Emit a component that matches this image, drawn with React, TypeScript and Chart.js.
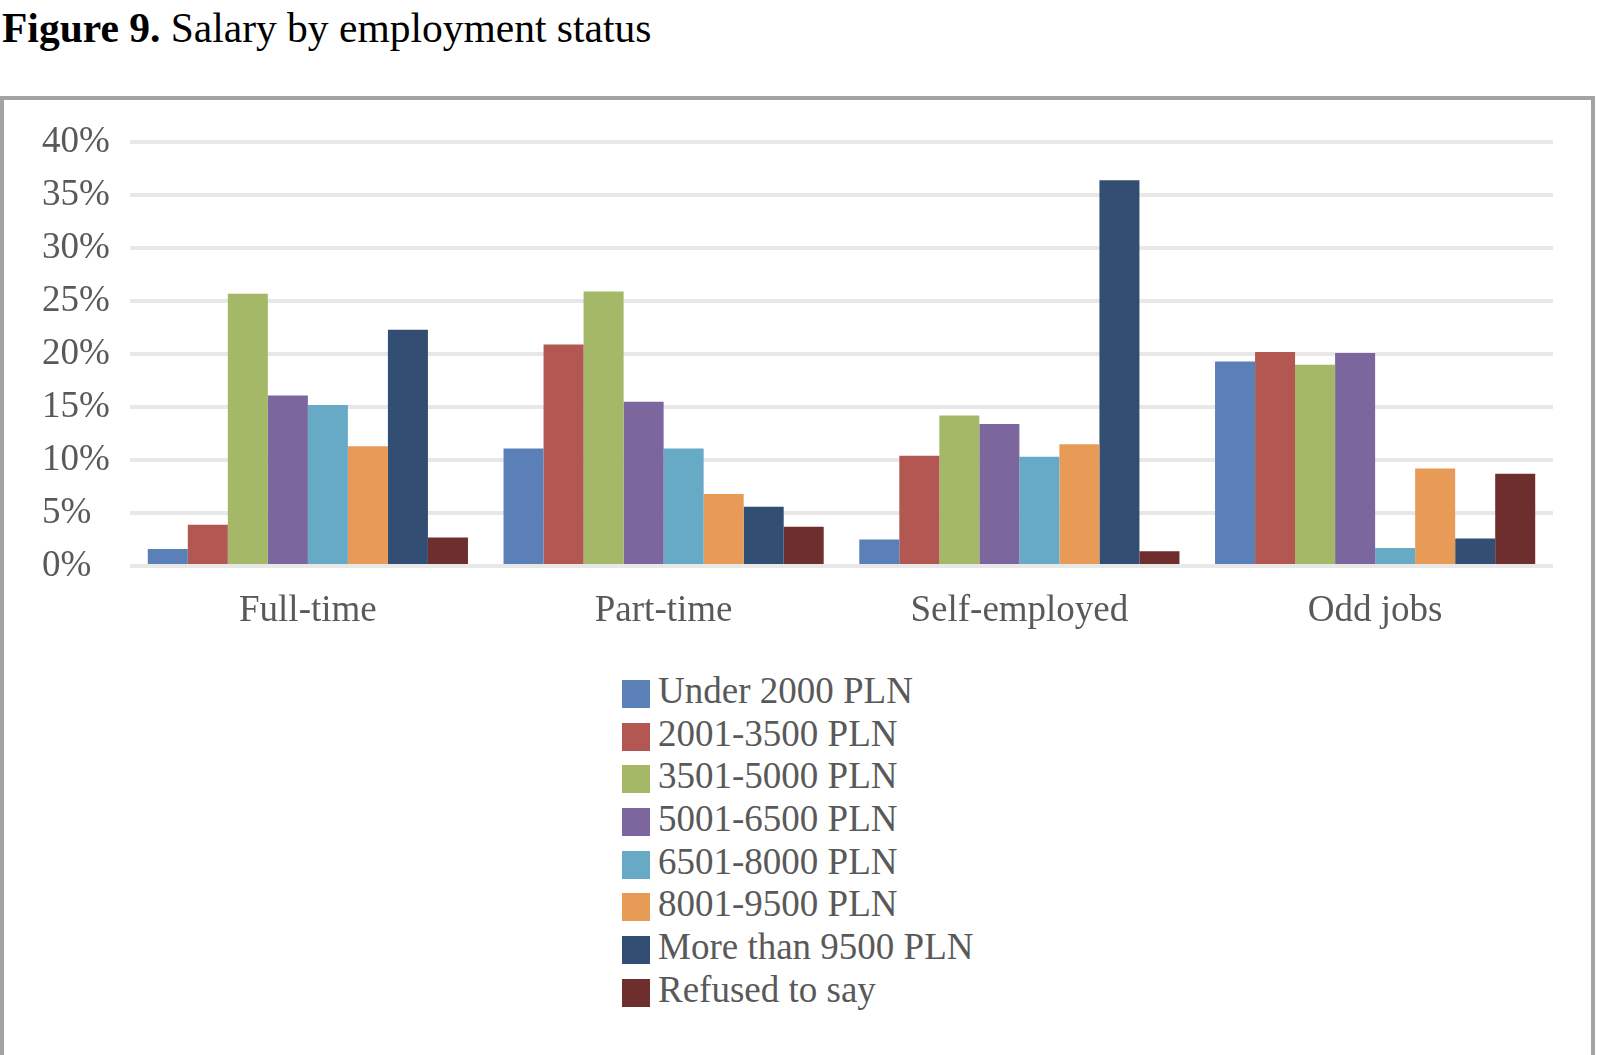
import React, { useEffect, useRef } from "react";
import { Chart, registerables } from "chart.js";

Chart.register(...registerables);

const categories = ["Full-time", "Part-time", "Self-employed", "Odd jobs"];

const seriesLabels = [
  "Under 2000 PLN",
  "2001-3500 PLN",
  "3501-5000 PLN",
  "5001-6500 PLN",
  "6501-8000 PLN",
  "8001-9500 PLN",
  "More than 9500 PLN",
  "Refused to say",
];

const seriesColors = [
  "#5B80B8",
  "#B35752",
  "#A4B868",
  "#7B669E",
  "#67AAC5",
  "#E89A57",
  "#324E72",
  "#6E2E2E",
];

const under2000 = [1.6, 11.1, 2.5, 19.3];
const from2001to3500 = [3.9, 20.9, 10.4, 20.2];
const from3501to5000 = [25.7, 25.9, 14.2, 19.0];
const from5001to6500 = [16.1, 15.5, 13.4, 20.1];
const from6501to8000 = [15.2, 11.1, 10.3, 1.7];
const from8001to9500 = [11.3, 6.8, 11.5, 9.2];
const over9500 = [22.3, 5.6, 36.4, 2.6];
const refusedToSay = [2.7, 3.7, 1.4, 8.7];

const seriesValues = [
  under2000,
  from2001to3500,
  from3501to5000,
  from5001to6500,
  from6501to8000,
  from8001to9500,
  over9500,
  refusedToSay,
];

const yMin = 0;
const yMax = 40;
const yStep = 5;

const SERIF = "'Liberation Serif', 'Times New Roman', serif";

function BarChart() {
  const canvasRef = useRef<HTMLCanvasElement | null>(null);

  useEffect(() => {
    if (!canvasRef.current) return;
    const chart = new Chart(canvasRef.current, {
      type: "bar",
      data: {
        labels: categories,
        datasets: seriesLabels.map((label, i) => ({
          label,
          data: seriesValues[i],
          backgroundColor: seriesColors[i],
          borderWidth: 0,
          barPercentage: 1,
          categoryPercentage: 0.9,
        })),
      },
      options: {
        animation: false,
        responsive: true,
        maintainAspectRatio: false,
        layout: { padding: { left: 38, right: 36, top: 35, bottom: 0 } },
        plugins: {
          legend: { display: false },
          title: { display: false },
          tooltip: { enabled: false },
        },
        scales: {
          x: {
            grid: { display: false, drawTicks: false },
            border: { display: false },
            ticks: {
              color: "#595959",
              padding: 23,
              font: { family: SERIF, size: 37 },
            },
            afterFit: (scale: any) => {
              scale.height = 77;
            },
          },
          y: {
            min: yMin,
            max: yMax,
            grid: {
              color: "#e8e8e8",
              lineWidth: 4,
              drawTicks: false,
            },
            border: { display: false },
            ticks: {
              stepSize: yStep,
              crossAlign: "far",
              padding: 20,
              color: "#595959",
              font: { family: SERIF, size: 37 },
              callback: (v: any) => `${v}%`,
            },
            afterFit: (scale: any) => {
              scale.width = 88;
            },
          },
        },
      },
    });
    return () => chart.destroy();
  }, []);

  return <canvas ref={canvasRef} />;
}

export default function App() {
  return (
    <div
      style={{
        position: "absolute",
        left: 0,
        top: 0,
        width: 1600,
        height: 1055,
        overflow: "hidden",
        background: "#ffffff",
      }}
    >
      <div
        style={{
          position: "absolute",
          left: 2,
          top: 7,
          fontFamily: SERIF,
          fontSize: 41.5,
          lineHeight: "42px",
          color: "#000000",
          whiteSpace: "nowrap",
        }}
      >
        <span style={{ fontWeight: "bold" }}>Figure 9.</span> Salary by employment status
      </div>
      <div
        style={{
          position: "absolute",
          left: 0,
          top: 96,
          width: 1595,
          height: 1000,
          border: "4px solid #a3a3a3",
          boxSizing: "border-box",
        }}
      />
      <div
        style={{
          position: "absolute",
          left: 4,
          top: 100,
          width: 1585,
          height: 543,
        }}
      >
        <BarChart />
      </div>
      <div
        style={{
          position: "absolute",
          left: 622,
          top: 670,
          fontFamily: SERIF,
          fontSize: 37,
          color: "#595959",
        }}
      >
        {seriesLabels.map((label, i) => (
          <div
            key={label}
            style={{
              display: "flex",
              alignItems: "flex-start",
              height: 42.7,
              lineHeight: "42.7px",
              whiteSpace: "nowrap",
            }}
          >
            <span
              style={{
                display: "inline-block",
                width: 28,
                height: 28,
                marginTop: 10,
                marginRight: 8,
                background: seriesColors[i],
                flex: "0 0 auto",
              }}
            />
            <span>{label}</span>
          </div>
        ))}
      </div>
    </div>
  );
}
